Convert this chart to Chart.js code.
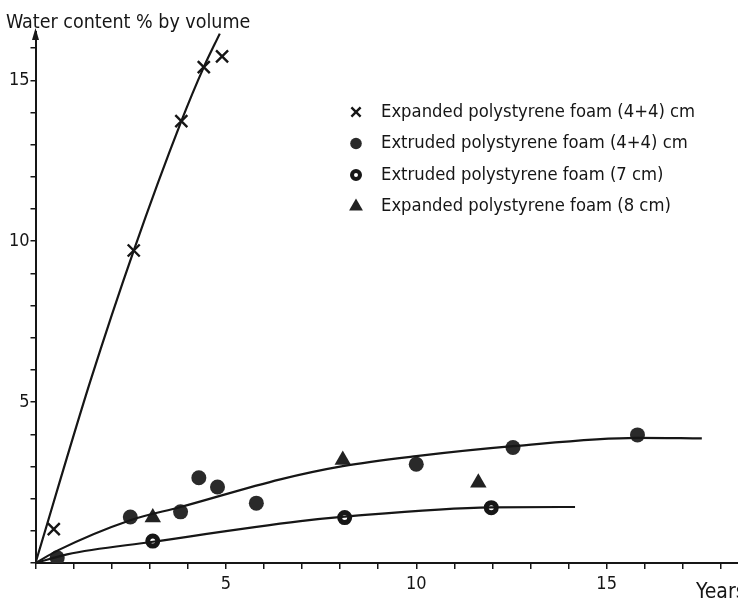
<!DOCTYPE html>
<html>
<head>
<meta charset="utf-8">
<script src="https://cdn.jsdelivr.net/npm/chart.js@4.4.0/dist/chart.umd.min.js"></script>
<style>
  html, body { margin: 0; padding: 0; background: #fff; overflow: hidden; }
  #wrap { width: 738px; height: 602px; position: relative; }
</style>
</head>
<body>
<div id="wrap"><canvas id="waterChart"></canvas></div>
<script>
// measured samples (years, water content % by volume)
const seriesNames = [
  'Expanded polystyrene foam (4+4) cm',
  'Extruded polystyrene foam (4+4) cm',
  'Extruded polystyrene foam (7 cm)',
  'Expanded polystyrene foam (8 cm)'
];

const eps44Years = [0.48, 2.58, 3.83, 4.42, 4.90];
const eps44Water = [1.05, 9.71, 13.73, 15.41, 15.74];

const xps44Years = [0.57, 2.49, 3.81, 4.29, 4.78, 5.80, 10.0, 12.54, 15.81];
const xps44Water = [0.16, 1.43, 1.59, 2.65, 2.36, 1.86, 3.07, 3.59, 3.98];

const xps7Years = [3.08, 8.12, 11.97];
const xps7Water = [0.68, 1.41, 1.72];

const eps8Years = [3.08, 8.07, 11.63];
const eps8Water = [1.41, 3.20, 2.49];

// hand-drawn trend curves
const epsCurveYears = [0, 1.44, 2.58, 3.83, 4.42, 4.84];
const epsCurveWater = [0, 5.65, 9.71, 13.73, 15.41, 16.45];

const xpsCurveYears = [0, 0.6, 2.49, 3.81, 6.43, 8.07, 10.0, 12.54, 15.81, 17.5];
const xpsCurveWater = [0, 0.4, 1.33, 1.74, 2.60, 3.01, 3.32, 3.63, 3.89, 3.87];

const xps7CurveYears = [0, 0.83, 3.08, 6.96, 8.12, 11.97, 14.17];
const xps7CurveWater = [0, 0.27, 0.66, 1.30, 1.44, 1.73, 1.74];

const labelledTicks = [5, 10, 15];

const ink = '#161616';
const textFont = '"DejaVu Sans Condensed", "DejaVu Sans", sans-serif';

function toPoints(xs, ys) {
  return xs.map((x, i) => ({ x: x, y: ys[i] }));
}

function curve(xs, ys) {
  return {
    data: toPoints(xs, ys),
    showLine: true,
    borderColor: ink,
    borderWidth: 2.2,
    pointRadius: 0,
    cubicInterpolationMode: 'monotone',
    fill: false
  };
}

const markerStyles = [
  { pointStyle: 'crossRot', pointRadius: 8.5, borderWidth: 2.4, pointBorderColor: ink, pointBackgroundColor: ink, legendRadius: 6.5, legendBorder: 2.4 },
  { pointStyle: 'circle', pointRadius: 7.5, borderWidth: 0, pointBorderColor: '#2a2a2a', pointBackgroundColor: '#2a2a2a', legendRadius: 5.8, legendBorder: 0 },
  { pointStyle: 'circle', pointRadius: 5, borderWidth: 5, pointBorderColor: ink, pointBackgroundColor: '#fff', legendRadius: 4, legendBorder: 4 },
  { pointStyle: 'triangle', pointRadius: 9.5, borderWidth: 0, pointBorderColor: ink, pointBackgroundColor: '#222', legendRadius: 8, legendBorder: 0 }
];

const sampleSets = [
  [eps44Years, eps44Water],
  [xps44Years, xps44Water],
  [xps7Years, xps7Water],
  [eps8Years, eps8Water]
];

const markerSets = sampleSets.map((s, i) => Object.assign({
  label: seriesNames[i],
  data: toPoints(s[0], s[1]),
  showLine: false,
  pointBorderWidth: markerStyles[i].borderWidth,
  pointHoverRadius: markerStyles[i].pointRadius
}, markerStyles[i]));

// title, axis arrow, "Years" and the legend box
const annotations = {
  id: 'annotations',
  afterDraw(chart) {
    const ctx = chart.ctx;
    const area = chart.chartArea;
    ctx.save();
    ctx.fillStyle = ink;
    ctx.textBaseline = 'alphabetic';
    ctx.textAlign = 'left';

    ctx.font = '19.5px ' + textFont;
    ctx.fillText('Water content % by volume', 6, 28);

    ctx.font = '21px ' + textFont;
    ctx.fillText('Years', 696, 598);

    // arrow on top of the y axis
    ctx.beginPath();
    ctx.moveTo(area.left, area.top - 4);
    ctx.lineTo(area.left - 3.5, area.top + 8);
    ctx.lineTo(area.left + 3.5, area.top + 8);
    ctx.closePath();
    ctx.fill();

    // legend
    const rowY = [112, 143.5, 175, 206.5];
    ctx.font = '18.3px ' + textFont;
    ctx.textBaseline = 'middle';
    markerSets.forEach((ds, i) => {
      ctx.fillStyle = ds.pointBackgroundColor;
      ctx.strokeStyle = ds.pointBorderColor;
      ctx.lineWidth = ds.legendBorder;
      Chart.helpers.drawPoint(ctx, {
        pointStyle: ds.pointStyle,
        radius: ds.legendRadius,
        rotation: 0,
        borderWidth: ds.legendBorder
      }, 356, rowY[i]);
      ctx.fillStyle = ink;
      ctx.fillText(ds.label, 381, rowY[i]);
    });
    ctx.restore();
  }
};

const ctxWater = document.getElementById('waterChart').getContext('2d');

new Chart(ctxWater, {
  type: 'scatter',
  data: {
    datasets: [
      curve(epsCurveYears, epsCurveWater),
      curve(xpsCurveYears, xpsCurveWater),
      curve(xps7CurveYears, xps7CurveWater)
    ].concat(markerSets)
  },
  options: {
    responsive: true,
    maintainAspectRatio: false,
    animation: false,
    layout: {
      autoPadding: false,
      padding: { top: 32, right: 0, left: 0, bottom: 0 }
    },
    plugins: {
      legend: { display: false },
      tooltip: { enabled: false }
    },
    scales: {
      x: {
        type: 'linear',
        min: 0,
        max: 18.45,
        afterFit: (axis) => {
          axis.height = 39;
          axis.paddingLeft = 0;
          axis.paddingRight = 0;
        },
        border: { color: ink, width: 2 },
        grid: { drawOnChartArea: false, drawTicks: true, tickLength: 6, color: ink, lineWidth: 1.5 },
        ticks: {
          stepSize: 1,
          includeBounds: false,
          autoSkip: false,
          maxRotation: 0,
          padding: 5,
          color: ink,
          font: { family: textFont, size: 18 },
          callback: (v) => labelledTicks.includes(v) ? String(v) : ''
        }
      },
      y: {
        type: 'linear',
        min: 0,
        max: 16.5,
        afterFit: (axis) => {
          axis.width = 35.5;
          axis.paddingTop = 0;
          axis.paddingBottom = 0;
        },
        border: { color: ink, width: 2 },
        grid: { drawOnChartArea: false, drawTicks: true, tickLength: 5, color: ink, lineWidth: 1.5 },
        ticks: {
          stepSize: 1,
          includeBounds: false,
          autoSkip: false,
          padding: 1,
          color: ink,
          font: { family: textFont, size: 18 },
          callback: (v) => labelledTicks.includes(v) ? String(v) : ''
        }
      }
    }
  },
  plugins: [annotations]
});
</script>
</body>
</html>
